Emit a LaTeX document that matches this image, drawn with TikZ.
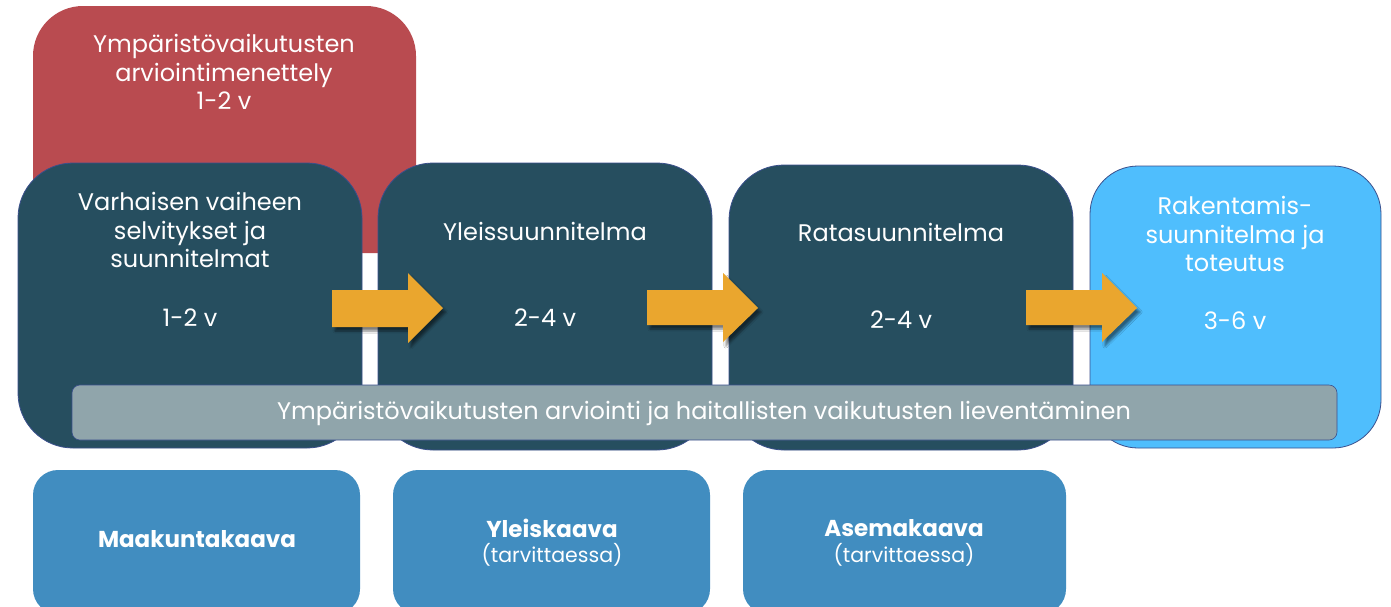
\documentclass[tikz,border=0pt]{standalone}
\usepackage{fontspec}
\setmainfont{Poppins}
\usetikzlibrary{shadows.blur}
\definecolor{redc}{HTML}{B94B50}
\definecolor{darkc}{HTML}{264E5F}
\definecolor{lightc}{HTML}{4FBEFD}
\definecolor{barc}{HTML}{90A5AB}
\definecolor{bottomc}{HTML}{418DC0}
\definecolor{arrowc}{HTML}{EAA62E}
\definecolor{edgec}{HTML}{3A4F8C}
\tikzset{
  txt/.style={text=white, align=center, inner sep=0pt, font=\fontsize{24}{28.5}\selectfont},
  bartxt/.style={text=white, inner sep=0pt, font=\fontsize{24}{26}\selectfont},
  boldtxt/.style={text=white, align=center, inner sep=0pt, font=\fontsize{23}{28}\selectfont\bfseries},
  smalltxt/.style={text=white, inner sep=0pt, font=\fontsize{20.5}{22}\selectfont},
  stage/.style={fill=darkc, draw=edgec, line width=0.8pt, rounded corners=55},
  arrowshape/.style={fill=arrowc, blur shadow={shadow xshift=3pt, shadow yshift=-4pt, shadow blur steps=6, shadow opacity=50}},
}
\begin{document}
\begin{tikzpicture}[x=1pt,y=-1pt]
\clip (0,0) rectangle (1391,606);
\fill[white] (0,0) rectangle (1391,606);
% red box
\fill[redc] (33,253) {[rounded corners=50] -- (33,6) -- (416,6)} -- (416,253) -- cycle;
\node[txt] (eia) at (224,72) {Ympäristövaikutusten\\arviointimenettely\\1-2 v};
% stage boxes
\draw[stage] (18,163) rectangle (362,448);
\draw[stage] (378,163) rectangle (712,450);
\draw[stage] (729,165) rectangle (1073,450);
\draw[fill=lightc, draw=edgec, line width=0.8pt, rounded corners=48] (1090,166) rectangle (1381,448);
\node[txt] (t1) at (190,230) {Varhaisen vaiheen\\selvitykset ja\\suunnitelmat};
\node[txt] (d1) at (190,318) {1-2 v};
\node[txt] (t2) at (545,231) {Yleissuunnitelma};
\node[txt] (d2) at (545,318) {2-4 v};
\node[txt] (t3) at (901,232) {Ratasuunnitelma};
\node[txt] (d3) at (901,320) {2-4 v};
\node[txt] (t4) at (1235,234) {Rakentamis-\\suunnitelma ja\\toteutus};
\node[txt] (d4) at (1235,321) {3-6 v};
% bar
\draw[fill=barc, draw=edgec, line width=0.6pt, rounded corners=8] (72,385) rectangle (1337,440);
\node[bartxt] (bar) at (704,413) {Ympäristövaikutusten arviointi ja haitallisten vaikutusten lieventäminen};
% arrows
\fill[arrowshape] (332,290) -- (408,290) -- (408,273) -- (443,308) -- (408,343) -- (408,327) -- (332,327) -- cycle;
\fill[arrowshape] (647,290) -- (723,290) -- (723,273) -- (758,308) -- (723,342) -- (723,325) -- (647,325) -- cycle;
\fill[arrowshape] (1026,290) -- (1102,290) -- (1102,273) -- (1137,308) -- (1102,342) -- (1102,325) -- (1026,325) -- cycle;
% bottom boxes
\fill[bottomc, rounded corners=25] (33,470) rectangle (360,614);
\fill[bottomc, rounded corners=25] (393,470) rectangle (710,614);
\fill[bottomc, rounded corners=25] (743,470) rectangle (1066,614);
\node[boldtxt] (m) at (197,539) {Maakuntakaava};
\node[boldtxt] (y) at (552,528) {Yleiskaava};
\node[smalltxt] (yt) at (552,555) {(tarvittaessa)};
\node[boldtxt] (a) at (904,528) {Asemakaava};
\node[smalltxt] (at) at (904,555) {(tarvittaessa)};
\end{tikzpicture}
\end{document}
